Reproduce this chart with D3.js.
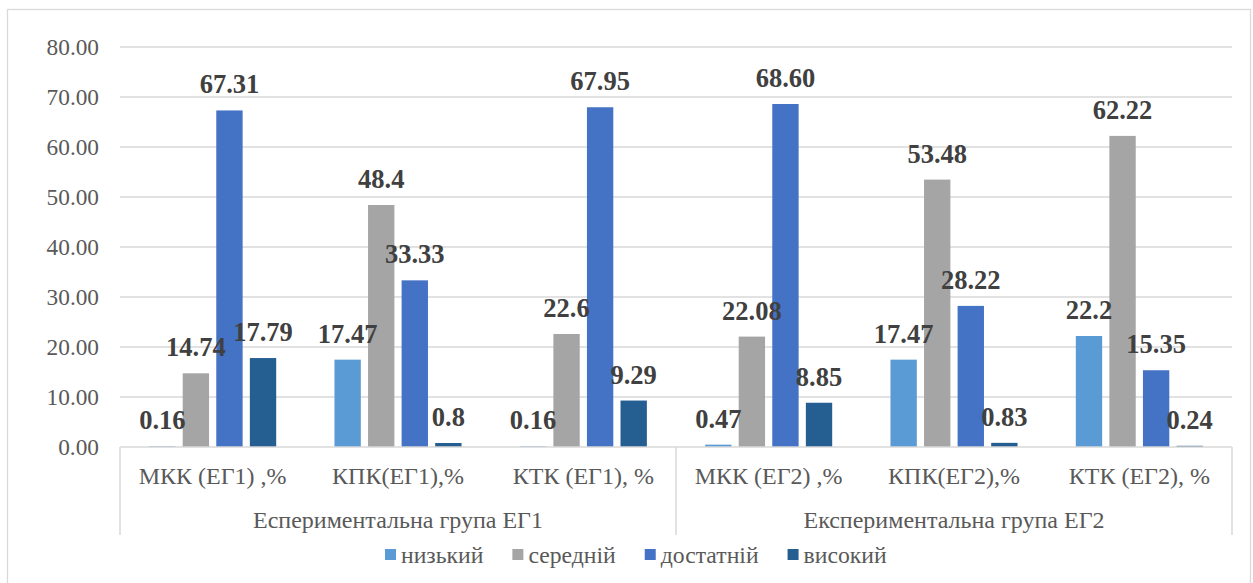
<!DOCTYPE html>
<html>
<head>
<meta charset="utf-8">
<script src="https://cdn.jsdelivr.net/npm/d3@7"></script>
<style>
  html, body { margin: 0; padding: 0; background: #fff; }
</style>
</head>
<body>
<div id="chart"></div>
<script>
// categories and groups
var categories = ["МКК (ЕГ1) ,%", "КПК(ЕГ1),%", "КТК (ЕГ1), %", "МКК (ЕГ2) ,%", "КПК(ЕГ2),%", "КТК (ЕГ2), %"];
var groups = ["Еспериментальна група ЕГ1", "Експериментальна група ЕГ2"];
var seriesNames = ["низький", "середній", "достатній", "високий"];
var seriesColors = ["#5b9bd5", "#a5a5a5", "#4472c4", "#255e91"];

// series values
var nyzkyi = [0.16, 17.47, 0.16, 0.47, 17.47, 22.2];
var serednii = [14.74, 48.4, 22.6, 22.08, 53.48, 62.22];
var dostatnii = [67.31, 33.33, 67.95, 68.60, 28.22, 15.35];
var vysokyi = [17.79, 0.8, 9.29, 8.85, 0.83, 0.24];

// y ticks
var yTicks = [0, 10, 20, 30, 40, 50, 60, 70, 80];

var width = 1253, height = 583;
var plotLeft = 120, plotRight = 1232, plotTop = 47, plotBottom = 447;
var FONT = "Liberation Serif";

var series = [nyzkyi, serednii, dostatnii, vysokyi];
//label formats per series (достатній shows two decimals always)
var labelFmt = [String, String, function(v){ return v.toFixed(2); }, String];

var svg = d3.select("#chart").append("svg")
    .attr("width", width)
    .attr("height", height)
    .attr("font-family", FONT)
    .style("display", "block");

//outer frame
svg.append("rect")
    .attr("x", 7.5).attr("y", 9.5)
    .attr("width", 1243).attr("height", 620)
    .attr("fill", "#fff")
    .attr("stroke", "#d9d9d9")
    .attr("stroke-width", 1.3);

var y = d3.scaleLinear().domain([0, 80]).range([plotBottom, plotTop]);

var x0 = d3.scaleBand()
    .domain(d3.range(categories.length))
    .range([plotLeft, plotRight])
    .padding(0);

var x1 = d3.scaleBand()
    .domain(d3.range(seriesNames.length))
    .range([0, x0.bandwidth()])
    .paddingInner(0.215)
    .paddingOuter(0.868);

var xg = d3.scaleBand()
    .domain(d3.range(groups.length))
    .range([plotLeft, plotRight]);

//gridlines
svg.append("g")
    .selectAll("line")
    .data(yTicks.slice(1))
    .enter()
    .append("line")
    .attr("x1", plotLeft).attr("x2", plotRight)
    .attr("y1", function(d){ return y(d); })
    .attr("y2", function(d){ return y(d); })
    .attr("stroke", "#d9d9d9")
    .attr("stroke-width", 1.5);

//y axis labels
var yAxis = d3.axisLeft(y)
    .tickValues(yTicks)
    .tickFormat(d3.format(".2f"))
    .tickSize(0)
    .tickPadding(21);

var yg = svg.append("g")
    .attr("transform", "translate(" + plotLeft + ",0)")
    .call(yAxis);
yg.attr("font-family", FONT).attr("font-size", 23);
yg.select(".domain").remove();
yg.selectAll("text")
    .attr("font-family", FONT)
    .attr("font-size", 23.3)
    .attr("fill", "#595959");

//bars
var cat = svg.append("g")
    .selectAll("g")
    .data(categories)
    .enter()
    .append("g")
    .attr("transform", function(d, i){ return "translate(" + x0(i) + ",0)"; });

var barData = function(d, i){
    return series.map(function(s, k){ return {k: k, v: s[i]}; });
};

cat.selectAll("rect")
    .data(barData)
    .enter()
    .append("rect")
    .attr("x", function(d){ return x1(d.k); })
    .attr("width", x1.bandwidth())
    .attr("y", function(d){ return y(d.v); })
    .attr("height", function(d){ return y(0) - y(d.v); })
    .attr("fill", function(d){ return seriesColors[d.k]; });

//labels on top of all bars
var labels = svg.append("g")
    .selectAll("g")
    .data(categories)
    .enter()
    .append("g")
    .attr("transform", function(d, i){ return "translate(" + x0(i) + ",0)"; });

labels.selectAll("text")
    .data(barData)
    .enter()
    .append("text")
    .attr("x", function(d){ return x1(d.k) + x1.bandwidth() / 2; })
    .attr("y", function(d){ return y(d.v) - 17; })
    .attr("text-anchor", "middle")
    .attr("font-family", FONT)
    .attr("font-size", 26.5)
    .attr("font-weight", "bold")
    .attr("fill", "#404040")
    .text(function(d){ return labelFmt[d.k](d.v); });

//category axis
var axisG = svg.append("g").attr("stroke", "#d9d9d9").attr("stroke-width", 1.5);
axisG.append("line")
    .attr("x1", plotLeft).attr("x2", plotRight)
    .attr("y1", plotBottom).attr("y2", plotBottom);

var seps = [plotLeft].concat(groups.map(function(d, i){ return xg(i) + xg.bandwidth(); }));
axisG.selectAll(".sep")
    .data(seps)
    .enter()
    .append("line")
    .attr("x1", function(d){ return d; })
    .attr("x2", function(d){ return d; })
    .attr("y1", plotBottom)
    .attr("y2", 535);

svg.append("g")
    .selectAll("text")
    .data(categories)
    .enter()
    .append("text")
    .attr("x", function(d, i){ return x0(i) + x0.bandwidth() / 2; })
    .attr("y", 484)
    .attr("text-anchor", "middle")
    .attr("font-family", FONT)
    .attr("font-size", 24)
    .attr("fill", "#595959")
    .text(function(d){ return d; });

svg.append("g")
    .selectAll("text")
    .data(groups)
    .enter()
    .append("text")
    .attr("x", function(d, i){ return xg(i) + xg.bandwidth() / 2; })
    .attr("y", 528)
    .attr("text-anchor", "middle")
    .attr("font-family", FONT)
    .attr("font-size", 24)
    .attr("fill", "#595959")
    .text(function(d){ return d; });

//legend
var legend = svg.append("g");
var lx = 385;
seriesNames.forEach(function(name, k){
    legend.append("rect")
        .attr("x", lx).attr("y", 549)
        .attr("width", 11).attr("height", 11)
        .attr("fill", seriesColors[k]);
    var t = legend.append("text")
        .attr("x", lx + 16)
        .attr("y", 563)
        .attr("font-family", FONT)
        .attr("font-size", 23.7)
        .attr("fill", "#595959")
        .text(name);
    lx += 16 + t.node().getComputedTextLength() + 29;
});
</script>
</body>
</html>
